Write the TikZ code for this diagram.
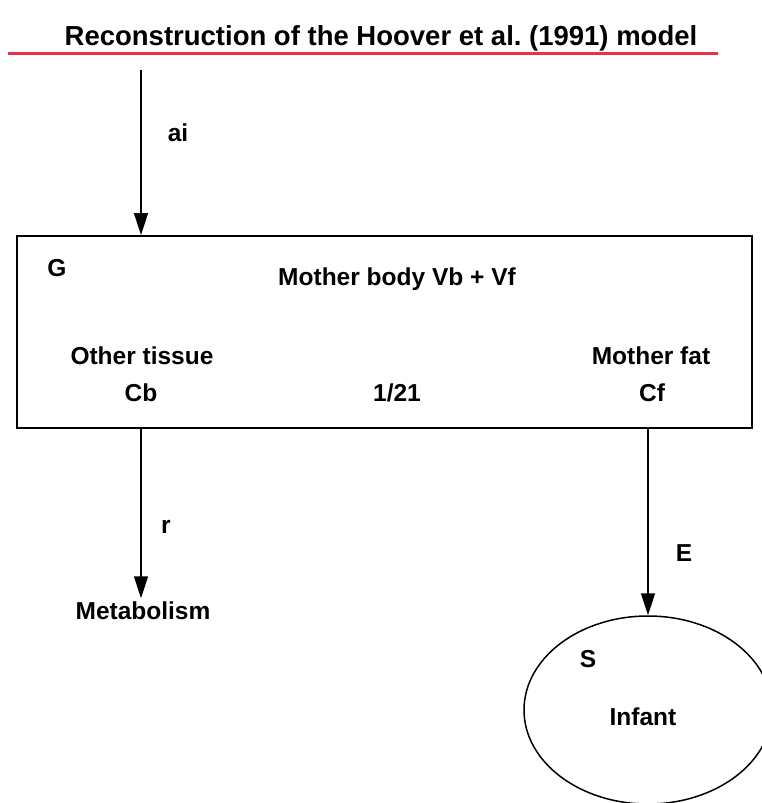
\documentclass[tikz,border=0pt]{standalone}
\usepackage{fontspec}
\setmainfont{Liberation Sans}
\usetikzlibrary{arrows.meta,shapes.geometric}
\definecolor{titlered}{RGB}{236,45,75}
\frenchspacing
\begin{document}
\begin{tikzpicture}[x=1pt,y=-1pt,
  lbl/.style={font=\bfseries\fontsize{24.5}{29}\selectfont, inner sep=0pt, anchor=base},
  ttl/.style={font=\bfseries\fontsize{27.5}{32}\selectfont, inner sep=0pt, anchor=base},
  conn/.style={line width=1.5pt, -{Triangle[length=22pt,width=14pt]}},
  boxst/.style={draw, line width=2pt, inner sep=0pt},
  ellst/.style={draw, ellipse, line width=1.5pt, inner sep=0pt, minimum width=248pt, minimum height=188pt}]
\useasboundingbox (0,0) rectangle (762,803);
\node[ttl] (title) at (381,45) {Reconstruction of the Hoover et al. (1991) model};
\coordinate (rl) at (8,53);
\coordinate (rr) at (718,53);
\draw[titlered, line width=3pt] (rl) -- (rr);
% compartments
\node[boxst, minimum width=735pt, minimum height=192pt] (body) at (384.5,332) {};
\node[ellst] (infant) at (648,710) {};
% source of input
\coordinate (src) at (141,70);
% texts
\node[lbl] (ai) at (178,141) {ai};
\node[lbl] (G) at (57,276) {G};
\node[lbl] (mb) at (397,285) {Mother body Vb + Vf};
\node[lbl] (ot) at (142,364) {Other tissue};
\node[lbl] (mf) at (651,364) {Mother fat};
\node[lbl] (cb) at (141,401) {Cb};
\node[lbl] (ratio) at (397,401) {1/21};
\node[lbl] (cf) at (652,401) {Cf};
\node[lbl] (r) at (166,533) {r};
\node[lbl, outer sep=3pt] (meta) at (143,619) {Metabolism};
\node[lbl] (E) at (684,561) {E};
\node[lbl] (S) at (588,667) {S};
\node[lbl] (inf) at (643,725) {Infant};
% connectors
\draw[conn] (src) -- (src |- body.north);
\draw[conn] (body.south -| src) -- (src |- meta.north);
\draw[conn] (body.south -| infant.north) -- (infant.north);
\end{tikzpicture}
\end{document}
